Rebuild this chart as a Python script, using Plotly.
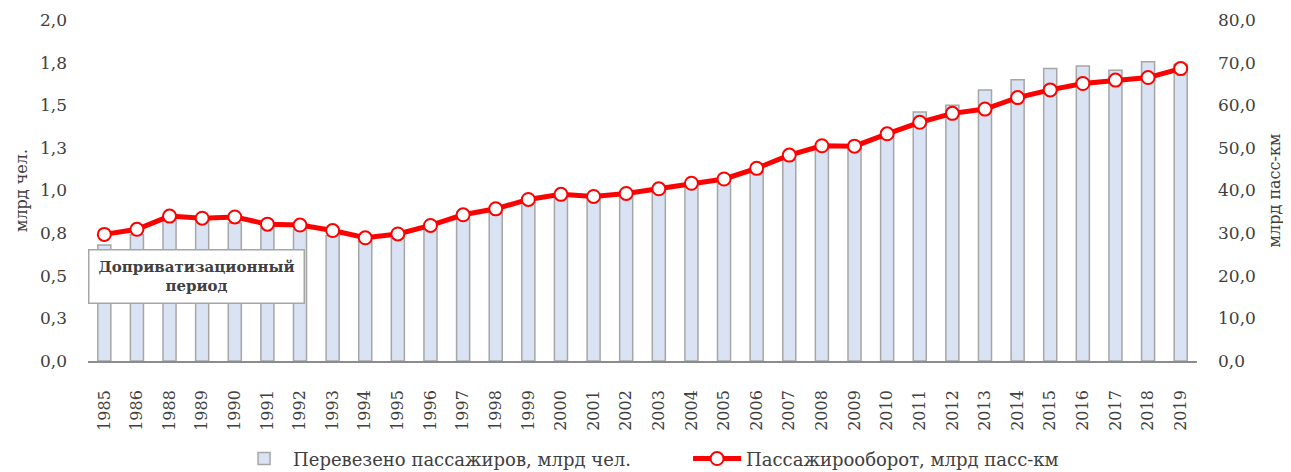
import plotly.graph_objects as go

years = ["1985", "1986", "1988", "1989", "1990", "1991", "1992", "1993", "1994", "1995",
         "1996", "1997", "1998", "1999", "2000", "2001", "2002", "2003", "2004", "2005",
         "2006", "2007", "2008", "2009", "2010", "2011", "2012", "2013", "2014", "2015",
         "2016", "2017", "2018", "2019"]

passengers_bn = [0.68, 0.74, 0.84, 0.82, 0.81, 0.78, 0.77, 0.735, 0.70, 0.72,
                 0.77, 0.83, 0.87, 0.93, 0.955, 0.945, 0.96, 0.99, 1.02, 1.04,
                 1.11, 1.18, 1.25, 1.25, 1.33, 1.46, 1.50, 1.59, 1.65, 1.715,
                 1.73, 1.705, 1.755, 1.74]

turnover_bn_pkm = [29.7, 30.9, 34.0, 33.5, 33.8, 32.1, 31.9, 30.6, 28.9, 29.8,
                   31.8, 34.3, 35.7, 37.9, 39.1, 38.6, 39.3, 40.4, 41.7, 42.7,
                   45.2, 48.3, 50.5, 50.4, 53.3, 56.0, 58.1, 59.1, 61.8, 63.6,
                   65.1, 65.9, 66.5, 68.6]

left_tickvals = [0, 0.25, 0.5, 0.75, 1.0, 1.25, 1.5, 1.75, 2.0]
left_ticktext = ["0,0", "0,3", "0,5", "0,8", "1,0", "1,3", "1,5", "1,8", "2,0"]
right_tickvals = [0, 10, 20, 30, 40, 50, 60, 70, 80]
right_ticktext = ["0,0", "10,0", "20,0", "30,0", "40,0", "50,0", "60,0", "70,0", "80,0"]

FONT = "DejaVu Serif"
TXT = "#404040"
FS = 17

fig = go.Figure()
fig.add_trace(go.Bar(
    x=years, y=passengers_bn, name="Перевезено пассажиров, млрд чел.",
    marker=dict(color="#dae3f3", line=dict(color="#a6a6a6", width=1.5)),
    yaxis="y",
))
fig.add_trace(go.Scatter(
    x=years, y=turnover_bn_pkm, name="Пассажирооборот, млрд пасс-км",
    mode="lines+markers",
    line=dict(color="#ff0000", width=5),
    marker=dict(size=13, color="white", line=dict(color="#ff0000", width=2)),
    yaxis="y2",
))

# the page body has an 8px default margin, so the figure is sized/offset to compensate
fig.update_layout(
    width=1283, height=464,
    margin=dict(l=80, r=94, t=12, b=111, autoexpand=False),
    paper_bgcolor="white", plot_bgcolor="white",
    font=dict(family=FONT, size=FS, color=TXT),
    bargap=0.6,
    showlegend=True,
    legend=dict(orientation="h", x=0.1326, xanchor="left", y=-0.287, yanchor="middle",
                font=dict(family=FONT, size=18, color=TXT), itemwidth=48,
                entrywidth=390, entrywidthmode="pixels",
                traceorder="normal"),
    xaxis=dict(type="category", range=[-0.5, len(years) - 0.5], automargin=False,
               tickangle=-90, showgrid=False, showline=True,
               linecolor="#8c8c8c", linewidth=1.5, ticks="", ticklabelstandoff=21,
               tickfont=dict(family=FONT, size=FS - 1, color=TXT)),
    yaxis=dict(range=[0, 2.0], tickvals=left_tickvals, ticktext=left_ticktext,
               automargin=False,
               showgrid=False, zeroline=False, showline=False, ticks="",
               ticklabelstandoff=20,
               tickfont=dict(family=FONT, size=FS, color=TXT),
               title=dict(text="млрд чел.", font=dict(family=FONT, size=FS - 1, color=TXT),
                          standoff=8)),
    yaxis2=dict(range=[0, 80], tickvals=right_tickvals, ticktext=right_ticktext,
                automargin=False,
                overlaying="y", side="right", showgrid=False, zeroline=False,
                showline=False, ticks="", ticklabelstandoff=20,
                tickfont=dict(family=FONT, size=FS, color=TXT),
                title=dict(text="млрд пасс-км", font=dict(family=FONT, size=FS - 1, color=TXT),
                           standoff=13)),
    annotations=[dict(
        text="<b>Доприватизационный<br>период</b>",
        xref="paper", yref="paper", x=0.0978, y=0.249,
        xanchor="center", yanchor="middle", showarrow=False,
        width=212, height=50,
        bgcolor="white", bordercolor="#a6a6a6", borderwidth=1.5, borderpad=1,
        font=dict(family=FONT, size=15, color=TXT),
    )],
)

fig.write_html("out.html")
